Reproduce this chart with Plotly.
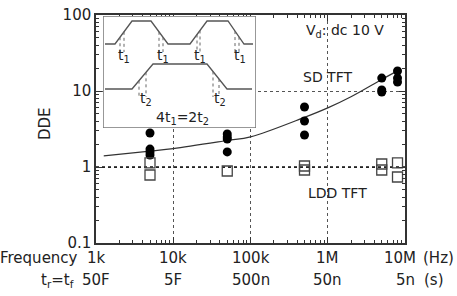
import numpy as np
import plotly.graph_objects as go

# ---------------- data ----------------
sd_freq = [5e3, 5e3, 5e3, 5e3, 5e4, 5e4, 5e4, 5e4, 5e5, 5e5, 5e5, 5e6, 5e6, 5e6, 8e6, 8e6, 8e6]
sd_dde = [2.80, 1.72, 1.58, 1.44, 2.72, 2.48, 2.33, 1.58, 6.16, 4.03, 2.64, 14.8, 10.3, 9.7, 18.3, 14.8, 13.1]

ldd_freq = [5e3, 5e3, 5e4, 5e5, 5e5, 5e6, 5e6, 8e6, 8e6]
ldd_dde = [1.13, 0.785, 0.886, 1.03, 0.913, 1.095, 0.913, 1.13, 0.739]

fit_freq = [1.26e3, 5e3, 1e4, 5e4, 1e5, 5e5, 1e6, 2e6, 5e6, 8e6]
fit_dde = [1.40, 1.62, 1.75, 2.23, 2.49, 4.5, 6.0, 8.4, 14.2, 18.4]

ldd_fit_freq = [1e3, 1e7]
ldd_fit_dde = [1.0, 1.0]

tick_freq = [1e3, 1e4, 1e5, 1e6, 1e7]
tick_freq_text = ["1k", "10k", "100k", "1M", "10M"]
tick_time_text = ["50F", "5F", "500n", "50n", "5n"]
tick_dde = [0.1, 1, 10, 100]
tick_dde_text = ["0.1", "1", "10", "100"]

# inset diagram (local units)
wave1_x = [2, 12, 29, 48, 65, 87, 104, 125, 141, 150]
wave1_y = [28, 28, 5, 5, 28, 28, 5, 5, 28, 28]
wave2_x = [2, 29, 50, 104, 124, 149]
wave2_y = [73, 73, 48, 48, 73, 73]
mark1_x = [17, 21, 56, 60, 94, 97, 132, 136]
mark2_x = [36, 43, 110, 116]
lab1_x = [21, 60, 97, 137]
lab2_x = [43, 117]

FONT = "DejaVu Sans"
INK = "#222"

fig = go.Figure()

fig.add_trace(go.Scatter(x=ldd_fit_freq, y=ldd_fit_dde, mode="lines",
                         line=dict(color="#111", width=1.5, dash="dot"), hoverinfo="skip"))
fig.add_trace(go.Scatter(x=fit_freq, y=fit_dde, mode="lines",
                         line=dict(color="#333", width=1.2, shape="spline"), hoverinfo="skip"))
fig.add_trace(go.Scatter(x=sd_freq, y=sd_dde, mode="markers",
                         marker=dict(symbol="circle", size=9, color="#000")))
fig.add_trace(go.Scatter(x=ldd_freq, y=ldd_dde, mode="markers",
                         marker=dict(symbol="square-open", size=10, color="#444", line=dict(width=1.3))))
# dummy trace to instantiate inset axes
fig.add_trace(go.Scatter(x=[0], y=[0], xaxis="x2", yaxis="y2", mode="markers",
                         marker=dict(size=1, opacity=0), hoverinfo="skip"))

minor_x = [m * 10 ** k for k in range(3, 7) for m in range(2, 10)]
minor_y = [m * 10 ** k for k in range(-1, 2) for m in range(2, 10)]

axis_common = dict(type="log", showline=True, linecolor="#333", linewidth=1.5, mirror="allticks",
                   ticks="inside", ticklen=6, tickcolor="#333", tickwidth=1, automargin=False,
                   showgrid=True, gridcolor="#555", gridwidth=1, griddash="dot",
                   zeroline=False, tickfont=dict(family=FONT, size=15, color=INK))

fig.update_layout(
    width=457, height=296,
    margin=dict(l=96, r=52, t=15, b=53),
    paper_bgcolor="white", plot_bgcolor="white",
    showlegend=False,
    font=dict(family=FONT, color=INK),
    xaxis=dict(range=[3, 7], tickmode="array", tickvals=tick_freq, showticklabels=False,
               minor=dict(tickmode="array", tickvals=minor_x, ticks="inside", ticklen=3.5,
                          tickcolor="#333", showgrid=False),
               **axis_common),
    yaxis=dict(range=[-1, 2], tickmode="array", tickvals=tick_dde, ticktext=tick_dde_text,
               minor=dict(tickmode="array", tickvals=minor_y, ticks="inside", ticklen=3.5,
                          tickcolor="#333", showgrid=False),
               **axis_common),
    xaxis2=dict(domain=[7 / 309, 160 / 309], range=[0, 153], visible=False, anchor="y2"),
    yaxis2=dict(domain=[(243 - 128) / 228, (243 - 16) / 228], range=[112, 0], visible=False, anchor="x2"),
)

shapes = []
# inset box
shapes.append(dict(type="rect", xref="x2", yref="y2", x0=0, x1=153, y0=0, y1=112,
                   fillcolor="white", line=dict(color="#777", width=1.5), layer="above"))
def path(xs, ys):
    return "M " + " L ".join(f"{x},{y}" for x, y in zip(xs, ys))
shapes.append(dict(type="path", xref="x2", yref="y2", path=path(wave1_x, wave1_y),
                   line=dict(color="#555", width=1.3), layer="above"))
shapes.append(dict(type="path", xref="x2", yref="y2", path=path(wave2_x, wave2_y),
                   line=dict(color="#555", width=1.3), layer="above"))
for mx in mark1_x:
    yy = float(np.interp(mx, wave1_x, wave1_y))
    shapes.append(dict(type="line", xref="x2", yref="y2", x0=mx, x1=mx, y0=yy, y1=36,
                       line=dict(color="#666", width=1, dash="dot"), layer="above"))
for mx in mark2_x:
    yy = float(np.interp(mx, wave2_x, wave2_y))
    shapes.append(dict(type="line", xref="x2", yref="y2", x0=mx, x1=mx, y0=yy, y1=81,
                       line=dict(color="#666", width=1, dash="dot"), layer="above"))
fig.update_layout(shapes=shapes)

ann = []
for lx in lab1_x:
    ann.append(dict(x=lx, y=40, xref="x2", yref="y2", text="t<sub>1</sub>", showarrow=False,
                    xanchor="center", yanchor="middle",
                    font=dict(family=FONT, size=14, color=INK)))
for lx in lab2_x:
    ann.append(dict(x=lx, y=83, xref="x2", yref="y2", text="t<sub>2</sub>", showarrow=False,
                    xanchor="center", yanchor="middle",
                    font=dict(family=FONT, size=14, color=INK)))
ann.append(dict(x=79, y=102, xref="x2", yref="y2", text="4t<sub>1</sub>=2t<sub>2</sub>", showarrow=False,
                xanchor="center", yanchor="middle",
                font=dict(family=FONT, size=14, color=INK)))

def px(x):
    return (x - 96) / 309
def py(y):
    return (243 - y) / 228

# x tick labels (two rows: frequency and rise/fall time)
for i, (v, t1, t2) in enumerate(zip(tick_freq, tick_freq_text, tick_time_text)):
    shift = -5 if i == len(tick_freq) - 1 else 0
    ann.append(dict(x=float(np.log10(v)), xref="x", y=py(258), yref="paper", text=t1,
                    showarrow=False, xanchor="center", yanchor="middle", xshift=shift,
                    font=dict(family=FONT, size=15, color=INK)))
    ann.append(dict(x=float(np.log10(v)), xref="x", y=py(280), yref="paper", text=t2,
                    showarrow=False, xanchor="center", yanchor="middle",
                    font=dict(family=FONT, size=15, color=INK)))

ann += [
    dict(x=px(345), y=py(31), text="V<sub>d</sub>: dc 10 V", size=14),
    dict(x=px(327), y=py(77), text="SD TFT", size=14),
    dict(x=px(337), y=py(193), text="LDD TFT", size=14),
    dict(x=px(45), y=py(124), text="DDE", size=15, textangle=-90),
    dict(x=px(39), y=py(258), text="Frequency", size=15),
    dict(x=px(57), y=py(280), text="t<sub>r</sub>=t<sub>f</sub>", size=15),
    dict(x=px(438), y=py(258), text="(Hz)", size=15),
    dict(x=px(434), y=py(280), text="(s)", size=15),
]
final = []
for a in ann:
    if "size" in a:
        s = a.pop("size")
        a.update(xref="paper", yref="paper", showarrow=False, xanchor="center", yanchor="middle",
                 font=dict(family=FONT, size=s, color=INK))
    final.append(a)
fig.update_layout(annotations=final)

fig.write_html("out.html")
